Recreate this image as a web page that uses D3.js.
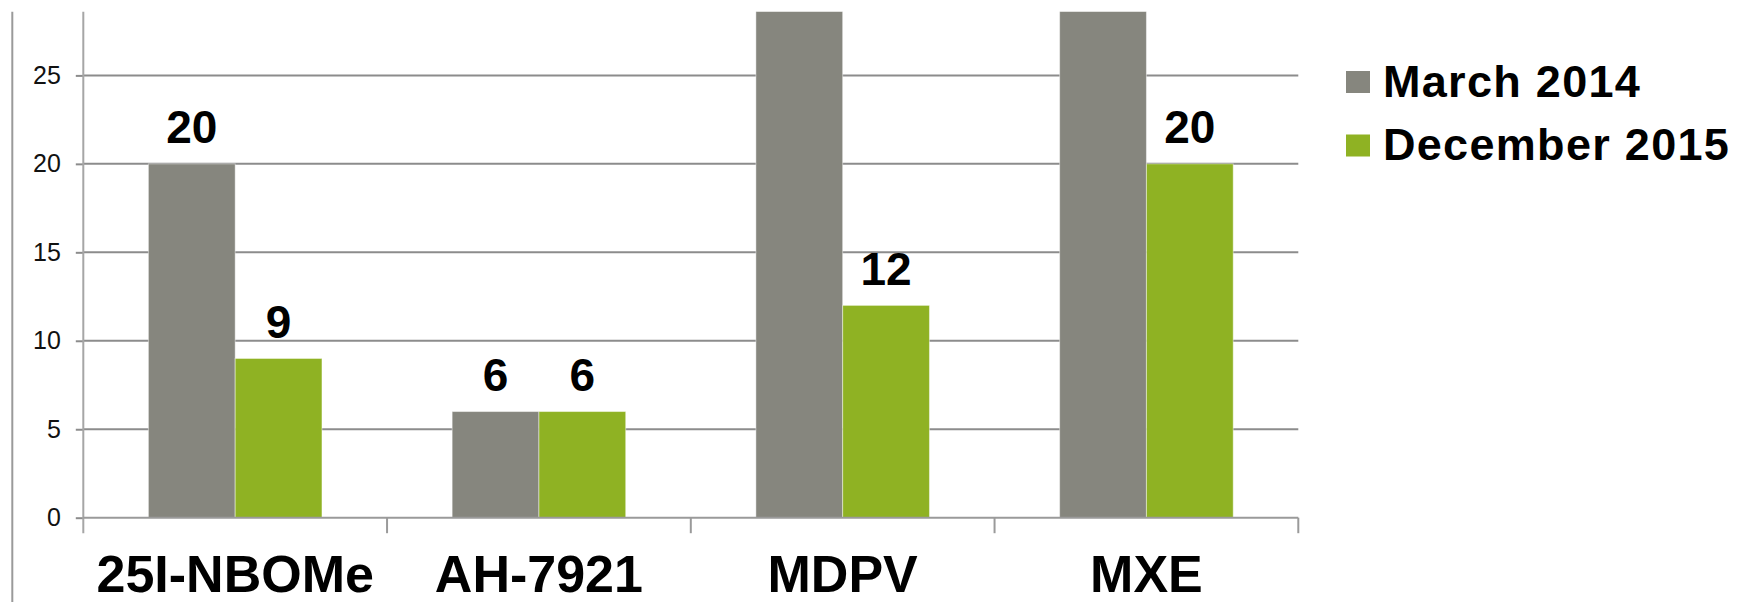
<!DOCTYPE html>
<html>
<head>
<meta charset="utf-8">
<script src="https://cdn.jsdelivr.net/npm/d3@7"></script>
<style>
  html, body { margin: 0; padding: 0; background: #fff; }
  svg { display: block; }
  text { font-family: "Liberation Sans", Arial, Helvetica, sans-serif; }
</style>
</head>
<body>
<svg id="chart" width="1739" height="602"></svg>
<script>
// Substances on the category axis
const categories = ["25I-NBOMe", "AH-7921", "MDPV", "MXE"];
// Series names and values per substance
const seriesNames = ["March 2014", "December 2015"];
const march2014 = [20, 6, 35, 38];
const december2015 = [9, 6, 12, 20];
// Value axis ticks
const yTicks = [0, 5, 10, 15, 20, 25];
const yMax = 28.6;

const colors = { "March 2014": "#86867e", "December 2015": "#8fb223" };

const svg = d3.select("#chart");
const W = 1739, H = 602;
const plot = { left: 83.3, right: 1298.3, top: 11.7, bottom: 517.7 };

const x0 = d3.scaleBand().domain(categories).range([plot.left, plot.right]).paddingInner(0).paddingOuter(0);
// Two bars filling 4/7 of each band (gap width 150%)
const x1 = d3.scaleBand().domain(seriesNames).range([0, x0.bandwidth()]).paddingInner(0).paddingOuter(0.75);
const y = d3.scaleLinear().domain([0, yMax]).range([plot.bottom, plot.top]);

const rows = categories.map((c, i) => ({
  category: c,
  values: [
    { series: "March 2014", value: march2014[i] },
    { series: "December 2015", value: december2015[i] }
  ]
}));

// Outer frame line on the far left
svg.append("line")
  .attr("x1", 12.3).attr("x2", 12.3)
  .attr("y1", plot.top).attr("y2", H)
  .attr("stroke", "#9a9a9a").attr("stroke-width", 2);

// Horizontal gridlines
svg.append("g")
  .selectAll("line")
  .data(yTicks.filter(t => t > 0))
  .join("line")
  .attr("x1", plot.left).attr("x2", plot.right)
  .attr("y1", d => y(d)).attr("y2", d => y(d))
  .attr("stroke", "#8c8c8c").attr("stroke-width", 2);

// Bars, clipped at the top of the plot area
svg.append("clipPath").attr("id", "plotClip")
  .append("rect")
  .attr("x", plot.left).attr("y", plot.top)
  .attr("width", plot.right - plot.left).attr("height", plot.bottom - plot.top);

const groups = svg.append("g").attr("clip-path", "url(#plotClip)")
  .selectAll("g")
  .data(rows)
  .join("g")
  .attr("transform", d => `translate(${x0(d.category)},0)`);

groups.selectAll("rect")
  .data(d => d.values)
  .join("rect")
  .attr("x", d => x1(d.series))
  .attr("width", x1.bandwidth())
  .attr("y", d => y(d.value))
  .attr("height", d => y(0) - y(d.value))
  .attr("fill", d => colors[d.series])
  .attr("stroke", "rgba(255,255,255,0.45)")
  .attr("stroke-width", 1);

// Value labels above bars that fit inside the plot
const labels = svg.append("g");
rows.forEach(r => {
  r.values.filter(v => v.value <= yMax).forEach(v => {
    labels.append("text")
      .attr("x", x0(r.category) + x1(v.series) + x1.bandwidth() / 2)
      .attr("y", y(v.value) - 20.5)
      .attr("text-anchor", "middle")
      .attr("font-size", 46)
      .attr("font-weight", "bold")
      .attr("fill", "#000")
      .text(v.value);
  });
});

// Value axis
const yAxis = svg.append("g")
  .attr("transform", `translate(${plot.left},0)`)
  .call(d3.axisLeft(y).tickValues(yTicks).tickSize(7.5).tickPadding(15).tickSizeOuter(0));
yAxis.select(".domain").remove();
yAxis.selectAll(".tick line").attr("stroke", "#8c8c8c").attr("stroke-width", 2);
yAxis.selectAll(".tick text")
  .attr("font-size", 25)
  .attr("font-family", "'Liberation Sans', Arial, sans-serif")
  .attr("fill", "#111")
  .attr("dy", "0.32em");
svg.append("line")
  .attr("x1", plot.left).attr("x2", plot.left)
  .attr("y1", plot.top).attr("y2", plot.bottom + 15.5)
  .attr("stroke", "#a6a6a6").attr("stroke-width", 2);

// Category axis
svg.append("line")
  .attr("x1", plot.left).attr("x2", plot.right)
  .attr("y1", plot.bottom).attr("y2", plot.bottom)
  .attr("stroke", "#9a9a9a").attr("stroke-width", 2);
svg.append("g")
  .selectAll("line")
  .data(categories.slice(1).map(c => x0(c)).concat([plot.right]))
  .join("line")
  .attr("x1", d => d).attr("x2", d => d)
  .attr("y1", plot.bottom).attr("y2", plot.bottom + 15.5)
  .attr("stroke", "#9a9a9a").attr("stroke-width", 2);
svg.append("g")
  .selectAll("text")
  .data(categories)
  .join("text")
  .attr("x", d => x0(d) + x0.bandwidth() / 2)
  .attr("y", 592)
  .attr("text-anchor", "middle")
  .attr("font-size", 52)
  .attr("font-weight", "bold")
  .attr("fill", "#000")
  .text(d => d);

// Legend
const legend = svg.append("g").attr("transform", "translate(1346,0)");
const legendRows = legend.selectAll("g")
  .data(seriesNames)
  .join("g")
  .attr("transform", (d, i) => `translate(0,${i * 63.5})`);
legendRows.append("rect")
  .attr("x", 0).attr("y", 71)
  .attr("width", 24).attr("height", 22)
  .attr("fill", d => colors[d]);
legendRows.append("text")
  .attr("x", 37).attr("y", 96.7)
  .attr("font-size", 45)
  .attr("font-weight", "bold")
  .attr("letter-spacing", 1.3)
  .attr("fill", "#000")
  .text(d => d);
</script>
</body>
</html>
